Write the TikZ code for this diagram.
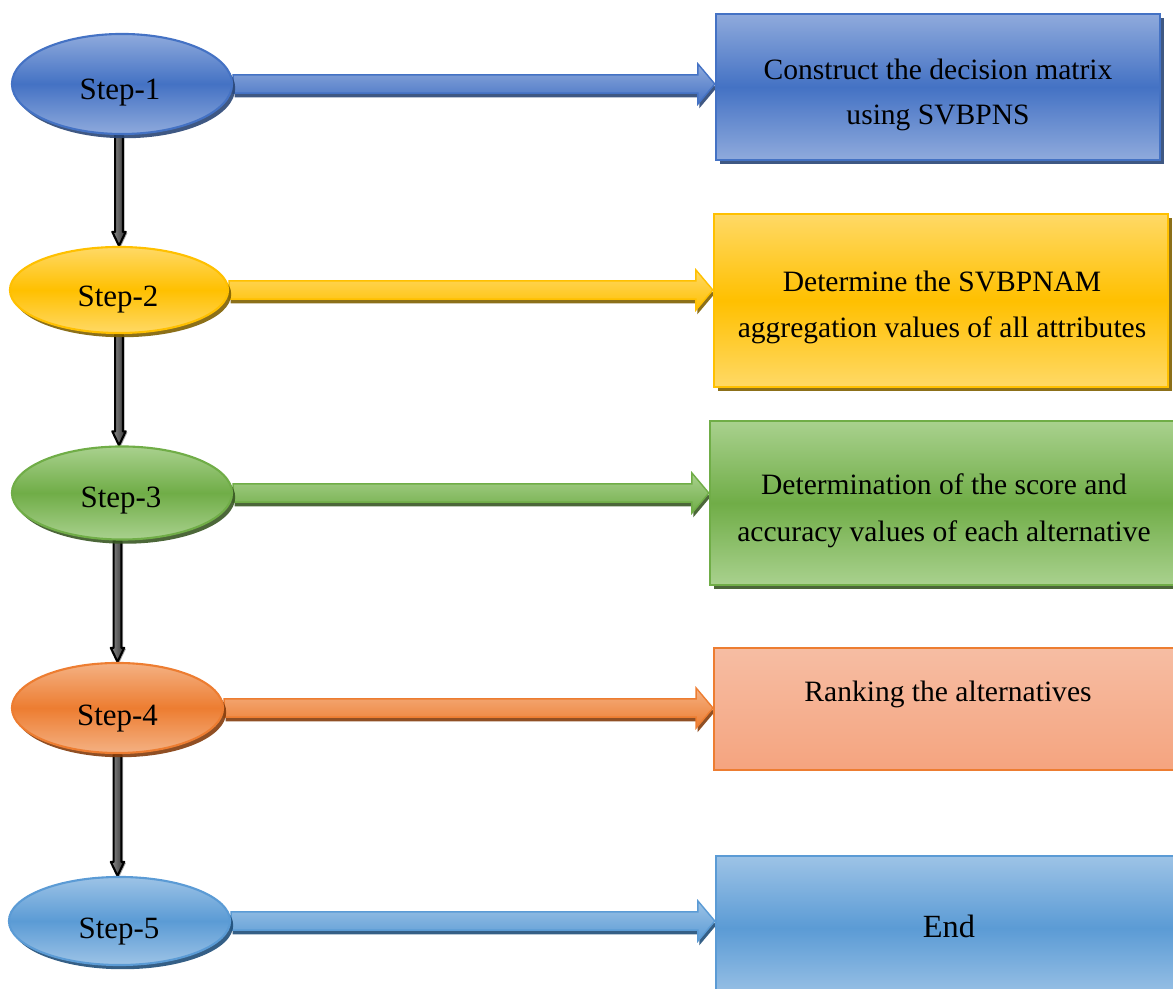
\documentclass[tikz,border=0pt]{standalone}
\usepackage{fontspec}
\setmainfont{Liberation Serif}
\usetikzlibrary{calc,shadows,backgrounds,shapes.geometric}
\definecolor{bluem}{HTML}{4472C4}\definecolor{bluel}{HTML}{8FAADC}\definecolor{blued}{HTML}{2A4676}
\definecolor{yelm}{HTML}{FFC000}\definecolor{yell}{HTML}{FFD966}\definecolor{yeld}{HTML}{7F6000}
\definecolor{grnm}{HTML}{70AD47}\definecolor{grnl}{HTML}{A9D18E}\definecolor{grnd}{HTML}{385723}
\definecolor{orgm}{HTML}{ED7D31}\definecolor{orgl}{HTML}{F4B183}\definecolor{orgd}{HTML}{843C0C}
\definecolor{salt}{HTML}{F6BDA3}\definecolor{salb}{HTML}{F5A47F}
\definecolor{lbm}{HTML}{5B9BD5}\definecolor{lbl}{HTML}{9DC3E6}\definecolor{lbd}{HTML}{1F4E79}
\tikzset{
  stepell/.style n args={3}{ellipse, inner sep=0pt, draw=#1, line width=0.6pt,
    top color=#2, bottom color=#2, middle color=#1,
    drop shadow={shadow xshift=0.9pt, shadow yshift=-1.2pt, opacity=0.9, fill=#3}},
  boxn/.style n args={2}{rectangle, inner sep=0pt, draw=#1, line width=0.6pt,
    top color=#2, bottom color=#2, middle color=#1},
  boxshadow/.style={drop shadow={shadow xshift=1.1pt, shadow yshift=-1.2pt, opacity=0.9, fill=#1}},
  steptext/.style={font=\fontsize{8.8}{10}\selectfont, inner sep=0pt, anchor=base},
  boxtext/.style={font=\fontsize{8.4}{10}\selectfont, inner sep=0pt, anchor=base},
  harrow/.style n args={3}{draw=#1, line width=0.4pt, line join=miter,
    top color=#2, bottom color=#1,
    drop shadow={shadow xshift=0.4pt, shadow yshift=-1.2pt, opacity=0.9, fill=#3},
    to path={let \p1=(\tikztostart), \p2=(\tikztotarget) in
      (\x1,\y1+2.6pt) -- (\x2-4.8pt,\y1+2.6pt) -- (\x2-4.8pt,\y1+5.7pt) -- (\x2,\y1)
      -- (\x2-4.8pt,\y1-5.7pt) -- (\x2-4.8pt,\y1-2.6pt) -- (\x1,\y1-2.6pt) -- cycle}},
  varrow/.style={draw=black, line width=0.6pt, left color=black!45, right color=black!80, line join=round,
    drop shadow={shadow xshift=0.5pt, shadow yshift=-0.3pt, opacity=0.35, fill=black},
    to path={let \p1=(\tikztostart), \p2=(\tikztotarget) in
      (\x2-1.1pt,\y1) -- (\x2-1.1pt,\y2+4pt) -- (\x2-1.9pt,\y2+4pt) -- (\x2,\y2)
      -- (\x2+1.9pt,\y2+4pt) -- (\x2+1.1pt,\y2+4pt) -- (\x2+1.1pt,\y1) -- cycle}}
}
\begin{document}
\begin{tikzpicture}[x=0.01cm,y=-0.01cm]
\useasboundingbox (0,0) rectangle (1173,989);
\clip (0,0) rectangle (1173,989);
% step ellipses
\node[stepell={bluem}{bluel}{blued}, minimum width=2.2cm, minimum height=1.0cm] (s1) at (122,84) {};
\node[stepell={yelm}{yell}{yeld}, minimum width=2.18cm, minimum height=0.86cm] (s2) at (119,290) {};
\node[stepell={grnm}{grnl}{grnd}, minimum width=2.2cm, minimum height=0.93cm] (s3) at (122,493) {};
\node[stepell={orgm}{orgl}{orgd}, minimum width=2.11cm, minimum height=0.9cm] (s4) at (117.5,708) {};
\node[stepell={lbm}{lbl}{lbd}, minimum width=2.21cm, minimum height=0.88cm] (s5) at (119.5,921) {};
% step labels
\node[steptext] (l1) at (120,100) {Step-1};
\node[steptext] (l2) at (118,307) {Step-2};
\node[steptext] (l3) at (121,508) {Step-3};
\node[steptext] (l4) at (117.5,726) {Step-4};
\node[steptext] (l5) at (119,938) {Step-5};
% boxes
\node[boxn={bluem}{bluel}, boxshadow=blued, minimum width=4.44cm, minimum height=1.46cm] (b1) at (938,87) {};
\node[boxn={yelm}{yell}, boxshadow=yeld, minimum width=4.54cm, minimum height=1.73cm] (b2) at (941,300.5) {};
\node[boxn={grnm}{grnl}, boxshadow=grnd, minimum width=4.7cm, minimum height=1.64cm] (b3) at (945,503) {};
\node[rectangle, inner sep=0pt, draw=orgm, line width=0.5pt, top color=salt, bottom color=salb,
      minimum width=4.66cm, minimum height=1.22cm] (b4) at (947,709) {};
\node[boxn={lbm}{lbl}, minimum width=4.64cm, minimum height=1.44cm] (b5) at (948,928) {};
% box texts
\node[boxtext] (t1a) at (938,80) {Construct the decision matrix};
\node[boxtext] (t1b) at (938,125) {using SVBPNS};
\node[boxtext] (t2a) at (942,292) {Determine the SVBPNAM};
\node[boxtext] (t2b) at (942,338) {aggregation values of all attributes};
\node[boxtext] (t3a) at (944,495) {Determination of the score and};
\node[boxtext] (t3b) at (944,542) {accuracy values of each alternative};
\node[boxtext] (t4a) at (948,702) {Ranking the alternatives};
\node[boxtext, font=\fontsize{9.2}{11}\selectfont] (t5a) at (949,937) {End};
% connectors
\begin{scope}[on background layer]
\draw[harrow={bluem}{bluel}{blued}] (s1.east) to (b1.west);
\draw[harrow={yelm}{yell}{yeld}] (s2.east) to (b2.west);
\draw[harrow={grnm}{grnl}{grnd}] (s3.east) to (b3.west);
\draw[harrow={orgm}{orgl}{orgd}] (s4.east) to (b4.west);
\draw[harrow={lbm}{lbl}{lbd}] (s5.east) to (b5.west);
\draw[varrow] (s1.south) to (s2.north);
\draw[varrow] (s2.south) to (s2.south |- s3.north);
\draw[varrow] (s3.south) to (s4.north);
\draw[varrow] (s4.south) to (s4.south |- s5.north);
\end{scope}
\end{tikzpicture}
\end{document}
